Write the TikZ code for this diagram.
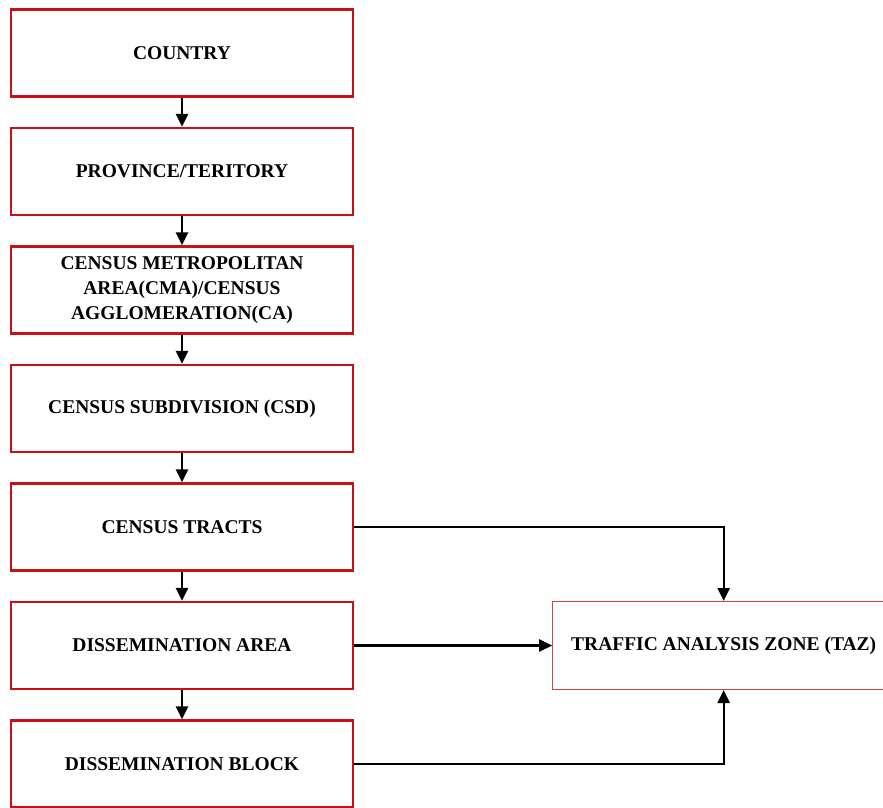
\documentclass[tikz,border=0pt]{standalone}
\usepackage{fontspec}
\setmainfont{Liberation Serif}
\usetikzlibrary{arrows.meta,positioning}
\definecolor{boxred}{RGB}{200,16,24}

\begin{document}
\begin{tikzpicture}[x=1pt,y=1pt,
    every node/.style={font=\fontsize{19.5}{25}\selectfont\bfseries},
    level/.style={minimum width=342pt,minimum height=87pt,draw=boxred,line width=2.4pt,align=center},
    zone/.style={minimum width=342pt,minimum height=88pt,draw=boxred!80,line width=1pt,align=center},
    link/.style={-{Triangle[length=13pt,width=12pt]},line width=2.4pt}]

    \useasboundingbox (0,0) rectangle (883,-808);

    % census hierarchy
    \node[level] (COUNTRY) at (182,-53) {COUNTRY};
    \node[level,below=29.1pt of COUNTRY] (PROVINCE) {PROVINCE/TERITORY};
    \node[level,below=29.1pt of PROVINCE] (CMA) {CENSUS METROPOLITAN\\AREA(CMA)/CENSUS\\AGGLOMERATION(CA)};
    \node[level,below=29.1pt of CMA] (CSD) {CENSUS SUBDIVISION (CSD)};
    \node[level,below=29.1pt of CSD] (TRACTS) {CENSUS TRACTS};
    \node[level,below=29.1pt of TRACTS] (DA) {DISSEMINATION AREA};
    \node[level,below=29.1pt of DA] (DB) {DISSEMINATION BLOCK};

    \node[zone,right=198pt of DA] (TAZ) {TRAFFIC ANALYSIS ZONE (TAZ)};

    \foreach \a/\b in {COUNTRY/PROVINCE,PROVINCE/CMA,CMA/CSD,CSD/TRACTS,TRACTS/DA,DA/DB} {
      \path[link,draw] (\a) -- (\b);
    }

    \path[link,draw] (TRACTS.east) -| (TAZ.north);
    \path[link,draw] (DA) -- (TAZ);
    \path[link,draw] (DB.east) -| (TAZ.south);
\end{tikzpicture}
\end{document}
